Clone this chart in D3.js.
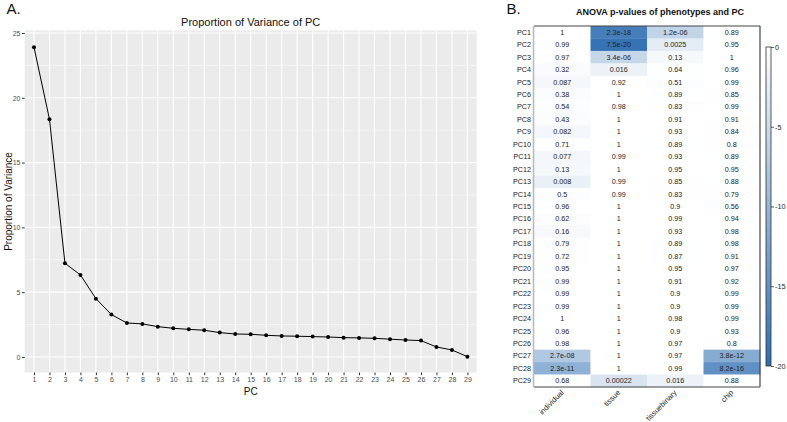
<!DOCTYPE html>
<html>
<head>
<meta charset="utf-8">
<script src="https://cdn.jsdelivr.net/npm/d3@7"></script>
<style>
  html, body { margin: 0; padding: 0; background: #fff; }
  svg { display: block; font-family: "Liberation Sans", Arial, Helvetica, sans-serif; }
</style>
</head>
<body>
<svg id="chart" width="787" height="422"></svg>
<script>
// ---------- Data ----------
const pcNumbers = [1,2,3,4,5,6,7,8,9,10,11,12,13,14,15,16,17,18,19,20,21,22,23,24,25,26,27,28,29];
const varianceValues = [23.9,18.35,7.23,6.33,4.5,3.27,2.62,2.55,2.34,2.21,2.13,2.06,1.88,1.77,1.75,1.67,1.62,1.6,1.57,1.54,1.49,1.47,1.44,1.37,1.31,1.26,0.77,0.54,0.02];
const yTicks = [0,5,10,15,20,25];

const phenotypes = ["individual","tissue","tissuebinary","chip"];
const pcRows = ["PC1","PC2","PC3","PC4","PC5","PC6","PC7","PC8","PC9","PC10","PC11","PC12","PC13","PC14","PC15","PC16","PC17","PC18","PC19","PC20","PC21","PC22","PC23","PC24","PC25","PC26","PC27","PC28","PC29"];
const pIndividual   = [1,0.99,0.97,0.32,0.087,0.38,0.54,0.43,0.082,0.71,0.077,0.13,0.008,0.5,0.96,0.62,0.16,0.79,0.72,0.95,0.99,0.99,0.99,1,0.96,0.98,2.7e-08,2.3e-11,0.68];
const pTissue       = [2.3e-18,7.5e-20,3.4e-06,0.016,0.92,1,0.98,1,1,1,0.99,1,0.99,0.99,1,1,1,1,1,1,1,1,1,1,1,1,1,1,0.00022];
const pTissueBinary = [1.2e-06,0.0025,0.13,0.64,0.51,0.89,0.83,0.91,0.93,0.89,0.93,0.95,0.85,0.83,0.9,0.99,0.93,0.89,0.87,0.95,0.91,0.9,0.9,0.98,0.9,0.97,0.97,0.99,0.016];
const pChip         = [0.89,0.95,1,0.96,0.99,0.85,0.99,0.91,0.84,0.8,0.89,0.95,0.88,0.79,0.56,0.94,0.98,0.98,0.91,0.97,0.92,0.99,0.99,0.99,0.93,0.8,3.8e-12,8.2e-16,0.88];
const colorbarTicks = [0,-5,-10,-15,-20];

const svg = d3.select("#chart");
const FONT = '"Liberation Sans", Arial, Helvetica, sans-serif';

// ---------- Panel A ----------
const A = { left: 24.7, right: 476.7, top: 30.4, bottom: 372.5 };
const x = d3.scalePoint().domain(pcNumbers).range([A.left, A.right]).padding(0.6);
const y = d3.scaleLinear().domain([-1.2, 25.2]).range([A.bottom, A.top]);

svg.append("text").attr("x", 6.5).attr("y", 13.5).attr("font-size", 15).attr("fill", "#111").text("A.");

const gA = svg.append("g");
gA.append("rect").attr("x", A.left).attr("y", A.top).attr("width", A.right - A.left).attr("height", A.bottom - A.top).attr("fill", "#EBEBEB");

const minorY = [2.5,7.5,12.5,17.5,22.5];
gA.selectAll("line.minor").data(minorY).join("line")
  .attr("x1", A.left).attr("x2", A.right).attr("y1", d => y(d)).attr("y2", d => y(d))
  .attr("stroke", "#fff").attr("stroke-width", 0.55);
gA.selectAll("line.majy").data(yTicks).join("line")
  .attr("x1", A.left).attr("x2", A.right).attr("y1", d => y(d)).attr("y2", d => y(d))
  .attr("stroke", "#fff").attr("stroke-width", 1.1);
gA.selectAll("line.majx").data(pcNumbers).join("line")
  .attr("x1", d => x(d)).attr("x2", d => x(d)).attr("y1", A.top).attr("y2", A.bottom)
  .attr("stroke", "#fff").attr("stroke-width", 1.1);

// axes
const xAxis = gA.append("g").attr("transform", `translate(0,${A.bottom})`)
  .call(d3.axisBottom(x).tickSize(2.7).tickPadding(2));
const yAxis = gA.append("g").attr("transform", `translate(${A.left},0)`)
  .call(d3.axisLeft(y).tickValues(yTicks).tickSize(2.7).tickPadding(1.5));
[xAxis, yAxis].forEach(ax => {
  ax.select(".domain").remove();
  ax.selectAll(".tick line").attr("stroke", "#333").attr("stroke-width", 1);
  ax.selectAll(".tick text").attr("fill", "#4D4D4D").attr("font-size", 7).attr("font-family", FONT);
});

// line + points
gA.append("path").datum(varianceValues.map((v, i) => [pcNumbers[i], v]))
  .attr("fill", "none").attr("stroke", "#000").attr("stroke-width", 1)
  .attr("d", d3.line().x(d => x(d[0])).y(d => y(d[1])));
gA.selectAll("circle").data(varianceValues).join("circle")
  .attr("cx", (d, i) => x(pcNumbers[i])).attr("cy", d => y(d)).attr("r", 2).attr("fill", "#000");

// titles
svg.append("text").attr("x", (A.left + A.right) / 2).attr("y", 25.5).attr("text-anchor", "middle")
  .attr("font-size", 11).attr("fill", "#111").text("Proportion of Variance of PC");
svg.append("text").attr("x", (A.left + A.right) / 2).attr("y", 395).attr("text-anchor", "middle")
  .attr("font-size", 10).attr("fill", "#111").text("PC");
svg.append("text").attr("transform", `translate(11.5,${(A.top + A.bottom) / 2}) rotate(-90)`).attr("text-anchor", "middle")
  .attr("font-size", 10).attr("fill", "#111").text("Proportion of Variance");

// ---------- Panel B ----------
svg.append("text").attr("x", 506.5).attr("y", 13.5).attr("font-size", 15).attr("fill", "#111").text("B.");
svg.append("text").attr("x", 660).attr("y", 15.3).attr("text-anchor", "middle")
  .attr("font-size", 9).attr("font-weight", "bold").attr("fill", "#111").text("ANOVA p-values of phenotypes and PC");

const H = { left: 534, right: 760, top: 26, bottom: 387 };
const cx = d3.scaleBand().domain(phenotypes).range([H.left, H.right]);
const cy = d3.scaleBand().domain(pcRows).range([H.top, H.bottom]);
const color = d3.scaleLinear().domain([0, -20]).range(["#ffffff", "#2d6db1"]).interpolate(d3.interpolateRgb).clamp(true);

const columns = [pIndividual, pTissue, pTissueBinary, pChip];
const cells = [];
pcRows.forEach((r, i) => phenotypes.forEach((c, j) => cells.push({ row: r, col: c, p: columns[j][i] })));

function fmtP(p) {
  if (p < 1e-4) {
    const s = p.toExponential(1); // e.g. 3.4e-6
    return s.replace(/e([+-])(\d)$/, "e$10$2");
  }
  return String(+p.toPrecision(2));
}

const gB = svg.append("g");
gB.selectAll("rect.cell").data(cells).join("rect")
  .attr("x", d => cx(d.col)).attr("y", d => cy(d.row))
  .attr("width", cx.bandwidth() + 0.3).attr("height", cy.bandwidth() + 0.3)
  .attr("fill", d => color(Math.log10(d.p)));
gB.selectAll("text.cell").data(cells).join("text")
  .attr("x", d => cx(d.col) + cx.bandwidth() / 2).attr("y", d => cy(d.row) + cy.bandwidth() / 2)
  .attr("dy", "0.35em").attr("text-anchor", "middle").attr("font-size", 7.2).attr("fill", "#222")
  .text(d => fmtP(d.p));

// frame
gB.append("line").attr("x1", H.left).attr("x2", H.right).attr("y1", H.top).attr("y2", H.top).attr("stroke", "#444").attr("stroke-width", 1.2);
gB.append("line").attr("x1", H.right).attr("x2", H.right).attr("y1", H.top).attr("y2", H.bottom).attr("stroke", "#444").attr("stroke-width", 1.2);
gB.append("line").attr("x1", H.left).attr("x2", H.right).attr("y1", H.bottom).attr("y2", H.bottom).attr("stroke", "#444").attr("stroke-width", 1.2);
gB.append("line").attr("x1", H.left - 0.5).attr("x2", H.left - 0.5).attr("y1", H.top).attr("y2", H.bottom).attr("stroke", "#bbb").attr("stroke-width", 1.6);

// row labels
gB.selectAll("text.row").data(pcRows).join("text")
  .attr("x", H.left - 3).attr("y", d => cy(d) + cy.bandwidth() / 2).attr("dy", "0.35em")
  .attr("text-anchor", "end").attr("font-size", 7.2).attr("fill", "#222").text(d => d);

// column labels
gB.selectAll("text.col").data(phenotypes).join("text")
  .attr("transform", d => `translate(${cx(d) + cx.bandwidth() / 2 + 2},${H.bottom + 6}) rotate(-45)`)
  .attr("text-anchor", "end").attr("font-size", 7.5).attr("fill", "#222").text(d => d);

// colorbar
const CB = { left: 766, width: 5 };
const cbY = d3.scaleLinear().domain([0, -20]).range([47, 366]);
const defs = svg.append("defs");
const grad = defs.append("linearGradient").attr("id", "cbgrad").attr("x1", 0).attr("x2", 0).attr("y1", 0).attr("y2", 1);
grad.selectAll("stop").data(colorbarTicks).join("stop")
  .attr("offset", d => (d / -20)).attr("stop-color", d => color(d));
svg.append("rect").attr("x", CB.left).attr("y", cbY(0)).attr("width", CB.width).attr("height", cbY(-20) - cbY(0))
  .attr("fill", "url(#cbgrad)").attr("stroke", "#333").attr("stroke-width", 0.8);
const cbAxis = svg.append("g").attr("transform", `translate(${CB.left + CB.width},0)`)
  .call(d3.axisRight(cbY).tickValues(colorbarTicks).tickSize(3).tickPadding(1).tickFormat(d => String(d)));
cbAxis.select(".domain").remove();
cbAxis.selectAll(".tick line").attr("stroke", "#333").attr("stroke-width", 0.8);
cbAxis.selectAll(".tick text").attr("font-size", 7.2).attr("fill", "#222").attr("font-family", FONT);
</script>
</body>
</html>
